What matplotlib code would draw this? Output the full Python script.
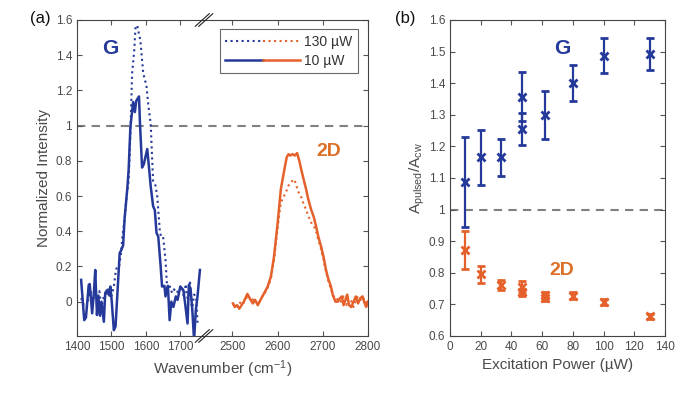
import numpy as np
import matplotlib
matplotlib.use("Agg")
import matplotlib.pyplot as plt
from matplotlib.lines import Line2D
from matplotlib.legend_handler import HandlerTuple
from matplotlib.ticker import FixedLocator, FuncFormatter, NullLocator

plt.rcParams['font.family'] = ['Liberation Sans', 'DejaVu Sans']
plt.rcParams['mathtext.fontset'] = 'custom'
plt.rcParams['mathtext.rm'] = 'Liberation Sans'
plt.rcParams['mathtext.it'] = 'Liberation Sans'

BLUE = '#25399a'
ORANGE = '#e5612b'
LABEL_ORANGE = '#dc7028'
GRAY_TXT = '#4a4a4a'

# ---------------- data: panel (a) ----------------
g_wn_10 = [1412, 1421, 1426, 1434, 1437, 1444, 1449, 1453, 1458, 1462, 1467, 1471, 1478, 1482,
           1487, 1492, 1497, 1501, 1507, 1512, 1516, 1524, 1528, 1534, 1538, 1546, 1550, 1555,
           1563, 1568, 1572, 1580, 1583, 1589, 1594, 1604, 1610, 1614, 1621, 1626, 1631, 1636,
           1643, 1647, 1654, 1657, 1664, 1669, 1674, 1680, 1687, 1692, 1700, 1709, 1714, 1721,
           1725, 1730, 1735, 1740, 1745, 1750, 1757]
g_int_10 = [0.124, -0.105, -0.09, 0.095, 0.10, -0.066, 0.05, 0.18, -0.076, 0.03, -0.08, 0.0, -0.114, 0.05,
            0.065, 0.04, 0.086, 0.0, -0.162, -0.14, 0.0, 0.277, 0.29, 0.32, 0.467, 0.64, 0.75, 0.99,
            1.134, 1.077, 1.14, 1.166, 1.01, 0.762, 0.78, 0.867, 0.743, 0.657, 0.543, 0.52, 0.39, 0.37,
            0.2, 0.086, 0.09, 0.03, 0.09, -0.105, 0.0, -0.03, 0.03, 0.01, 0.086, 0.065, -0.01, -0.124,
            0.095, 0.07, -0.05, -0.22, -0.05, 0.03, 0.18]

g_wn_130 = [1412, 1420, 1428, 1434, 1440, 1446, 1452, 1458, 1465, 1471, 1478, 1484, 1490, 1496,
            1502, 1508, 1513, 1517, 1522, 1527, 1532, 1538, 1544, 1550, 1555, 1560, 1566, 1570,
            1575, 1580, 1584, 1592, 1597, 1601, 1607, 1614, 1621, 1628, 1633, 1641, 1645, 1650,
            1657, 1662, 1666, 1670, 1676, 1682, 1690, 1696, 1704, 1710, 1716, 1722, 1728, 1734,
            1740, 1746, 1750]
g_int_130 = [0.02, -0.02, -0.03, 0.03, 0.06, -0.01, 0.07, 0.0, 0.06, -0.04, 0.03, 0.04, 0.07, 0.02,
             0.04, 0.10, 0.18, 0.2, 0.2, 0.26, 0.37, 0.46, 0.60, 0.686, 0.95, 1.295, 1.42, 1.56,
             1.57, 1.52, 1.486, 1.305, 1.257, 1.24, 1.12, 1.01, 0.686, 0.66, 0.6, 0.39, 0.37, 0.371,
             0.238, 0.07, 0.08, 0.086, 0.05, 0.07, 0.05, 0.07, 0.09, 0.03, 0.10, 0.0, 0.12, -0.05,
             0.04, 0.03, -0.12]

d_wn_10 = [2501, 2505, 2510, 2515, 2520, 2525, 2533, 2538, 2545, 2550, 2556, 2562, 2570, 2578,
           2585, 2592, 2600, 2607, 2615, 2620, 2624, 2628, 2633, 2638, 2643, 2648, 2652, 2657,
           2663, 2668, 2674, 2680, 2685, 2690, 2696, 2702, 2707, 2712, 2718, 2722, 2728, 2733,
           2738, 2742, 2746, 2750, 2754, 2758, 2763, 2768, 2773, 2778, 2783, 2788, 2792, 2796, 2800]
d_int_10 = [-0.01, -0.03, -0.02, -0.04, -0.02, 0.0, 0.044, 0.02, -0.01, 0.01, -0.02, 0.01, 0.048, 0.086,
            0.143, 0.257, 0.448, 0.638, 0.753, 0.82, 0.838, 0.83, 0.838, 0.83, 0.844, 0.80, 0.753, 0.70,
            0.638, 0.58, 0.524, 0.48, 0.429, 0.37, 0.314, 0.25, 0.181, 0.13, 0.086, 0.038, 0.0, 0.0,
            0.02, 0.03, -0.02, 0.01, 0.04, -0.02, -0.03, 0.0, 0.03, -0.01, 0.02, 0.03, -0.005, -0.03, 0.0]

d_wn_130 = [2501, 2506, 2512, 2518, 2524, 2530, 2536, 2542, 2548, 2554, 2560, 2566, 2572, 2578,
            2585, 2592, 2600, 2607, 2612, 2618, 2624, 2630, 2634, 2638, 2644, 2648, 2653, 2658,
            2663, 2668, 2674, 2680, 2685, 2690, 2696, 2702, 2707, 2712, 2718, 2724, 2730, 2735,
            2740, 2746, 2752, 2756, 2762, 2768, 2774, 2780, 2786, 2792, 2798]
d_int_130 = [-0.02, -0.01, -0.03, 0.0, -0.01, 0.02, 0.03, 0.0, 0.02, -0.01, 0.0, 0.03, 0.05, 0.08,
             0.13, 0.24, 0.42, 0.562, 0.59, 0.62, 0.66, 0.676, 0.695, 0.686, 0.638, 0.61, 0.59, 0.55,
             0.524, 0.486, 0.45, 0.43, 0.40, 0.35, 0.30, 0.23, 0.17, 0.12, 0.07, 0.03, 0.01, 0.02,
             0.0, 0.03, -0.02, 0.02, 0.01, -0.03, 0.02, 0.03, 0.0, 0.02, -0.02]

a_xticks = [1400, 1500, 1600, 1700, 2500, 2600, 2700, 2800]
a_yticks = [0, 0.2, 0.4, 0.6, 0.8, 1.0, 1.2, 1.4, 1.6]

# ---------------- data: panel (b) ----------------
g_power = [10, 20, 33, 47, 47, 62, 80, 100, 130]
g_ratio = [1.088, 1.165, 1.165, 1.357, 1.255, 1.298, 1.400, 1.487, 1.493]
g_err = [0.142, 0.088, 0.058, 0.078, 0.05, 0.076, 0.057, 0.055, 0.05]

d_power = [10, 20, 33, 47, 47, 62, 62, 80, 100, 130]
d_ratio = [0.872, 0.795, 0.762, 0.755, 0.738, 0.730, 0.720, 0.728, 0.708, 0.662]
d_err = [0.059, 0.028, 0.015, 0.018, 0.010, 0.010, 0.008, 0.010, 0.010, 0.007]

b_xticks = [0, 20, 40, 60, 80, 100, 120, 140]
b_yticks = [0.6, 0.7, 0.8, 0.9, 1.0, 1.1, 1.2, 1.3, 1.4, 1.5, 1.6]

# ---------------- broken x scale ----------------
BRK1, BRK2 = 1774.0, 2441.0
S1, S2 = 0.343, 0.45
U1 = (BRK1 - 1400) * S1
EPS = 1e-4

def fwd(x):
    x = np.asarray(x, dtype=float)
    return np.where(x <= BRK1, (x - 1400) * S1,
                    np.where(x >= BRK2, U1 + (BRK2 - BRK1) * EPS + (x - BRK2) * S2,
                             U1 + (x - BRK1) * EPS))

def inv(u):
    u = np.asarray(u, dtype=float)
    U2 = U1 + (BRK2 - BRK1) * EPS
    return np.where(u <= U1, 1400 + u / S1,
                    np.where(u >= U2, BRK2 + (u - U2) / S2,
                             BRK1 + (u - U1) / EPS))

fmt_g = FuncFormatter(lambda v, p: '%g' % round(v, 3))

fig = plt.figure(figsize=(6.9, 3.93), dpi=100)
ax1 = fig.add_axes([77 / 690, 57 / 393, 291 / 690, 316 / 393])
ax2 = fig.add_axes([450 / 690, 57 / 393, 215 / 690, 316 / 393])

for ax in (ax1, ax2):
    ax.tick_params(direction='in', top=True, right=True, length=3.5, width=0.8,
                   colors='#555555', labelcolor=GRAY_TXT, labelsize=8.5)
    for s in ax.spines.values():
        s.set_color('#444444')
        s.set_linewidth(0.8)

# panel (a)
ax1.set_xscale('function', functions=(fwd, inv))
ax1.set_xlim(1400, 2800)
ax1.set_ylim(-0.195, 1.6)
ax1.axhline(1.0, color='#808080', lw=1.5, ls=(0, (4, 3)), zorder=1)
ax1.plot(g_wn_130, g_int_130, color=BLUE, lw=1.5, ls=':')
ax1.plot(g_wn_10, g_int_10, color=BLUE, lw=1.8)
ax1.plot(d_wn_130, d_int_130, color=ORANGE, lw=1.5, ls=':')
ax1.plot(d_wn_10, d_int_10, color=ORANGE, lw=1.8)
ax1.xaxis.set_major_locator(FixedLocator(a_xticks))
ax1.xaxis.set_minor_locator(NullLocator())
ax1.xaxis.set_major_formatter(FuncFormatter(lambda v, p: '%d' % round(v)))
ax1.yaxis.set_major_locator(FixedLocator(a_yticks))
ax1.yaxis.set_major_formatter(fmt_g)
ax1.set_xlabel(r'Wavenumber (cm$^{\mathregular{-1}}$)', fontsize=11, color=GRAY_TXT, labelpad=4)
ax1.set_ylabel('Normalized Intensity', fontsize=11, color=GRAY_TXT, labelpad=3)

h130 = (Line2D([], [], color=BLUE, lw=1.5, ls=':'), Line2D([], [], color=ORANGE, lw=1.5, ls=':'))
h10 = (Line2D([], [], color=BLUE, lw=1.8), Line2D([], [], color=ORANGE, lw=1.8))
leg = ax1.legend([h130, h10], ['130 \u00b5W', '10 \u00b5W'],
                 handler_map={tuple: HandlerTuple(ndivide=None, pad=0)},
                 loc='upper right', bbox_to_anchor=(0.966, 0.97), fontsize=10,
                 handlelength=5.4, handletextpad=0.3, borderpad=0.4, labelspacing=0.35,
                 fancybox=False, frameon=True, borderaxespad=0)
leg.get_frame().set_edgecolor('#444444')
leg.get_frame().set_linewidth(0.8)
for t in leg.get_texts():
    t.set_color('#333333')

ax1.text(1497, 1.44, 'G', color=BLUE, fontsize=15, fontweight='bold', ha='center', va='center')
ax1.text(2685, 0.855, '2D', color=LABEL_ORANGE, fontsize=14, fontweight='bold', ha='left', va='center')

# break marks
xb = fwd(BRK1 + 0.0) / fwd(2800)
for yb in (0.0, 1.0):
    for dx in (-0.012, 0.0):
        ax1.plot([xb + dx - 0.024, xb + dx + 0.024], [yb - 0.02, yb + 0.02],
                 transform=ax1.transAxes, color='#222222', lw=0.8, clip_on=False, zorder=5)

# panel (b)
ax2.set_xlim(0, 140)
ax2.set_ylim(0.6, 1.6)
ax2.axhline(1.0, color='#808080', lw=1.5, ls=(0, (4, 3)), zorder=1)
ax2.errorbar(g_power, g_ratio, yerr=g_err, fmt='x', color=BLUE, ms=6, mew=2,
             elinewidth=1.6, capsize=3, capthick=1.6)
ax2.errorbar(d_power, d_ratio, yerr=d_err, fmt='x', color=ORANGE, ms=6, mew=2,
             elinewidth=1.6, capsize=3, capthick=1.6)
ax2.xaxis.set_major_locator(FixedLocator(b_xticks))
ax2.yaxis.set_major_locator(FixedLocator(b_yticks))
ax2.yaxis.set_major_formatter(fmt_g)
ax2.set_xlabel('Excitation Power (\u00b5W)', fontsize=11, color=GRAY_TXT, labelpad=4)
ax2.set_ylabel(r'$\mathregular{A_{pulsed}/A_{cw}}$', fontsize=11, color=GRAY_TXT, labelpad=1)
ax2.text(73, 1.51, 'G', color=BLUE, fontsize=15, fontweight='bold', ha='center', va='center')
ax2.text(73, 0.807, '2D', color=LABEL_ORANGE, fontsize=14, fontweight='bold', ha='center', va='center')

fig.text(40 / 690, 1 - 18 / 393, '(a)', fontsize=12, ha='center', va='center', color='#111111')
fig.text(405 / 690, 1 - 18 / 393, '(b)', fontsize=12, ha='center', va='center', color='#111111')

fig.savefig('out.png', dpi=100)
